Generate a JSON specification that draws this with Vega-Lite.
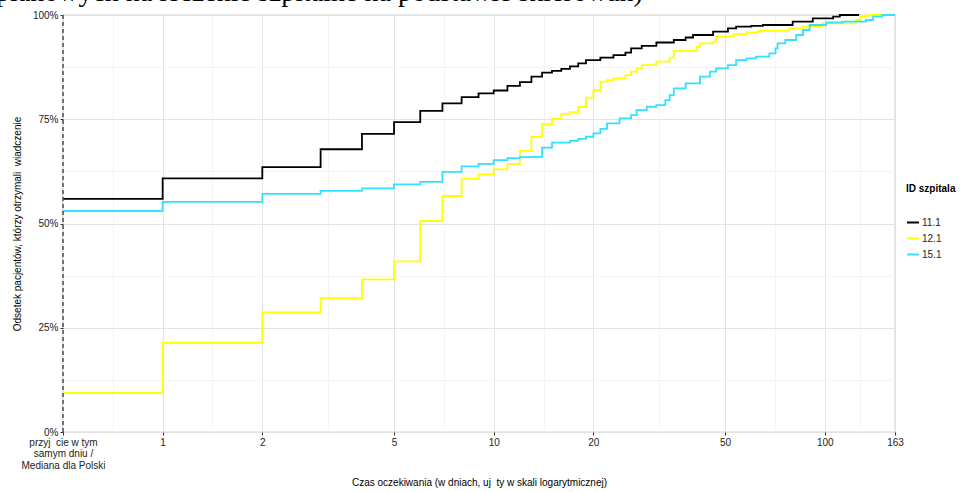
{
  "$schema": "https://vega.github.io/schema/vega-lite/v6.json",
  "width": 832,
  "height": 417,
  "autosize": "none",
  "padding": {"left": 63, "top": 15, "right": 65, "bottom": 60},
  "background": "white",
  "title": {
    "text": "planowych na leczenie szpitalne na podstawie skierowań)",
    "anchor": "start",
    "frame": "group",
    "orient": "top",
    "offset": 0,
    "baseline": "alphabetic",
    "dx": -67,
    "dy": 19,
    "font": "Liberation Serif",
    "fontSize": 28,
    "fontWeight": "normal",
    "color": "#000000"
  },
  "config": {
    "view": {"stroke": "#a8a8a8", "strokeWidth": 1.2},
    "axis": {
      "labelFont": "Liberation Sans",
      "labelFontSize": 10,
      "labelColor": "#222222",
      "titleFont": "Liberation Sans",
      "titleFontSize": 10,
      "titleFontWeight": "normal",
      "titleColor": "#000000",
      "domain": false,
      "tickColor": "#333333",
      "tickSize": 3,
      "labelPadding": 2
    }
  },
  "datasets": {
    "steps": [
      {"id": "11.1", "d": 0.5, "p": 0.559},
      {"id": "11.1", "d": 1, "p": 0.608},
      {"id": "11.1", "d": 2, "p": 0.635},
      {"id": "11.1", "d": 3, "p": 0.678},
      {"id": "11.1", "d": 4, "p": 0.715},
      {"id": "11.1", "d": 5, "p": 0.743},
      {"id": "11.1", "d": 6, "p": 0.770},
      {"id": "11.1", "d": 7, "p": 0.788},
      {"id": "11.1", "d": 8, "p": 0.803},
      {"id": "11.1", "d": 9, "p": 0.812},
      {"id": "11.1", "d": 10, "p": 0.819},
      {"id": "11.1", "d": 11, "p": 0.830},
      {"id": "11.1", "d": 12, "p": 0.839},
      {"id": "11.1", "d": 13, "p": 0.852},
      {"id": "11.1", "d": 14, "p": 0.862},
      {"id": "11.1", "d": 15, "p": 0.866},
      {"id": "11.1", "d": 16, "p": 0.871},
      {"id": "11.1", "d": 17, "p": 0.877},
      {"id": "11.1", "d": 18, "p": 0.884},
      {"id": "11.1", "d": 19, "p": 0.892},
      {"id": "11.1", "d": 21, "p": 0.898},
      {"id": "11.1", "d": 23, "p": 0.904},
      {"id": "11.1", "d": 25, "p": 0.910},
      {"id": "11.1", "d": 26, "p": 0.920},
      {"id": "11.1", "d": 28, "p": 0.926},
      {"id": "11.1", "d": 31, "p": 0.934},
      {"id": "11.1", "d": 35, "p": 0.940},
      {"id": "11.1", "d": 38, "p": 0.946},
      {"id": "11.1", "d": 40, "p": 0.952},
      {"id": "11.1", "d": 46, "p": 0.960},
      {"id": "11.1", "d": 51, "p": 0.968},
      {"id": "11.1", "d": 54, "p": 0.972},
      {"id": "11.1", "d": 60, "p": 0.974},
      {"id": "11.1", "d": 65, "p": 0.976},
      {"id": "11.1", "d": 80, "p": 0.984},
      {"id": "11.1", "d": 92, "p": 0.992},
      {"id": "11.1", "d": 106, "p": 0.996},
      {"id": "11.1", "d": 111, "p": 1.0},
      {"id": "11.1", "d": 127, "p": 1.0},
      {"id": "12.1", "d": 0.5, "p": 0.094},
      {"id": "12.1", "d": 1, "p": 0.214},
      {"id": "12.1", "d": 2, "p": 0.287},
      {"id": "12.1", "d": 3, "p": 0.321},
      {"id": "12.1", "d": 4, "p": 0.366},
      {"id": "12.1", "d": 5, "p": 0.409},
      {"id": "12.1", "d": 6, "p": 0.506},
      {"id": "12.1", "d": 7, "p": 0.566},
      {"id": "12.1", "d": 8, "p": 0.607},
      {"id": "12.1", "d": 9, "p": 0.618},
      {"id": "12.1", "d": 10, "p": 0.630},
      {"id": "12.1", "d": 11, "p": 0.643},
      {"id": "12.1", "d": 12, "p": 0.674},
      {"id": "12.1", "d": 13, "p": 0.708},
      {"id": "12.1", "d": 14, "p": 0.738},
      {"id": "12.1", "d": 15, "p": 0.751},
      {"id": "12.1", "d": 16, "p": 0.763},
      {"id": "12.1", "d": 17, "p": 0.767},
      {"id": "12.1", "d": 18, "p": 0.780},
      {"id": "12.1", "d": 19, "p": 0.802},
      {"id": "12.1", "d": 20, "p": 0.820},
      {"id": "12.1", "d": 21, "p": 0.840},
      {"id": "12.1", "d": 22, "p": 0.844},
      {"id": "12.1", "d": 23, "p": 0.848},
      {"id": "12.1", "d": 25, "p": 0.856},
      {"id": "12.1", "d": 26, "p": 0.864},
      {"id": "12.1", "d": 27, "p": 0.872},
      {"id": "12.1", "d": 28, "p": 0.880},
      {"id": "12.1", "d": 31, "p": 0.888},
      {"id": "12.1", "d": 34, "p": 0.898},
      {"id": "12.1", "d": 35, "p": 0.914},
      {"id": "12.1", "d": 41, "p": 0.924},
      {"id": "12.1", "d": 42, "p": 0.932},
      {"id": "12.1", "d": 46, "p": 0.936},
      {"id": "12.1", "d": 47, "p": 0.948},
      {"id": "12.1", "d": 53, "p": 0.954},
      {"id": "12.1", "d": 58, "p": 0.958},
      {"id": "12.1", "d": 63, "p": 0.962},
      {"id": "12.1", "d": 78, "p": 0.968},
      {"id": "12.1", "d": 86, "p": 0.972},
      {"id": "12.1", "d": 98, "p": 0.980},
      {"id": "12.1", "d": 124, "p": 0.988},
      {"id": "12.1", "d": 128, "p": 0.996},
      {"id": "12.1", "d": 135, "p": 1.0},
      {"id": "12.1", "d": 163, "p": 1.0},
      {"id": "15.1", "d": 0.5, "p": 0.530},
      {"id": "15.1", "d": 1, "p": 0.552},
      {"id": "15.1", "d": 2, "p": 0.571},
      {"id": "15.1", "d": 3, "p": 0.578},
      {"id": "15.1", "d": 4, "p": 0.584},
      {"id": "15.1", "d": 5, "p": 0.594},
      {"id": "15.1", "d": 6, "p": 0.600},
      {"id": "15.1", "d": 7, "p": 0.624},
      {"id": "15.1", "d": 8, "p": 0.637},
      {"id": "15.1", "d": 9, "p": 0.643},
      {"id": "15.1", "d": 10, "p": 0.652},
      {"id": "15.1", "d": 11, "p": 0.657},
      {"id": "15.1", "d": 12, "p": 0.659},
      {"id": "15.1", "d": 13, "p": 0.660},
      {"id": "15.1", "d": 14, "p": 0.682},
      {"id": "15.1", "d": 15, "p": 0.694},
      {"id": "15.1", "d": 17, "p": 0.698},
      {"id": "15.1", "d": 18, "p": 0.703},
      {"id": "15.1", "d": 19, "p": 0.708},
      {"id": "15.1", "d": 20, "p": 0.716},
      {"id": "15.1", "d": 21, "p": 0.727},
      {"id": "15.1", "d": 22, "p": 0.740},
      {"id": "15.1", "d": 24, "p": 0.752},
      {"id": "15.1", "d": 26, "p": 0.760},
      {"id": "15.1", "d": 27, "p": 0.772},
      {"id": "15.1", "d": 29, "p": 0.780},
      {"id": "15.1", "d": 31, "p": 0.784},
      {"id": "15.1", "d": 33, "p": 0.796},
      {"id": "15.1", "d": 34, "p": 0.808},
      {"id": "15.1", "d": 35, "p": 0.824},
      {"id": "15.1", "d": 38, "p": 0.836},
      {"id": "15.1", "d": 42, "p": 0.852},
      {"id": "15.1", "d": 45, "p": 0.864},
      {"id": "15.1", "d": 47, "p": 0.872},
      {"id": "15.1", "d": 51, "p": 0.880},
      {"id": "15.1", "d": 54, "p": 0.892},
      {"id": "15.1", "d": 58, "p": 0.896},
      {"id": "15.1", "d": 62, "p": 0.900},
      {"id": "15.1", "d": 68, "p": 0.908},
      {"id": "15.1", "d": 71, "p": 0.920},
      {"id": "15.1", "d": 72, "p": 0.932},
      {"id": "15.1", "d": 76, "p": 0.940},
      {"id": "15.1", "d": 82, "p": 0.952},
      {"id": "15.1", "d": 86, "p": 0.964},
      {"id": "15.1", "d": 90, "p": 0.976},
      {"id": "15.1", "d": 101, "p": 0.982},
      {"id": "15.1", "d": 113, "p": 0.984},
      {"id": "15.1", "d": 133, "p": 0.988},
      {"id": "15.1", "d": 140, "p": 0.996},
      {"id": "15.1", "d": 149, "p": 1.0},
      {"id": "15.1", "d": 163, "p": 1.0}
    ],
    "median": [{"d": 0.5}]
  },
  "layer": [
    {
      "data": {"name": "steps"},
      "mark": {"type": "line", "interpolate": "step-after", "strokeWidth": 1.8},
      "encoding": {
        "x": {
          "field": "d",
          "type": "quantitative",
          "scale": {"type": "log", "domain": [0.5, 163], "nice": false},
          "title": "Czas oczekiwania (w dniach, uj\u00a0\u00a0ty w skali logarytmicznej)",
          "axis": {
            "values": [0.5, 0.7071, 1, 1.4142, 2, 3.1623, 5, 7.0711, 10, 14.142, 20, 31.623, 50, 70.711, 100, 127.67, 163],
            "labelExpr": "datum.value == 0.5 ? ['przyj\u00a0\u00a0cie w tym', 'samym dniu /', 'Mediana dla Polski'] : (indexof([1, 2, 5, 10, 20, 50, 100, 163], datum.value) >= 0 ? '' + datum.value : '')",
            "labelLineHeight": 11.7,
            "labelFlush": false,
            "labelOverlap": false,
            "gridColor": {"condition": {"test": "indexof([0.5, 1, 2, 5, 10, 20, 50, 100, 163], datum.value) < 0", "value": "#f4f4f4"}, "value": "#e3e3e3"},
            "tickOpacity": {"condition": {"test": "indexof([0.5, 1, 2, 5, 10, 20, 50, 100, 163], datum.value) < 0", "value": 0}, "value": 1},
            "titlePadding": 7
          }
        },
        "y": {
          "field": "p",
          "type": "quantitative",
          "scale": {"domain": [0, 1], "nice": false},
          "title": "Odsetek pacjentów, którzy otrzymali\u00a0\u00a0wiadczenie",
          "axis": {
            "values": [0, 0.125, 0.25, 0.375, 0.5, 0.625, 0.75, 0.875, 1],
            "labelExpr": "indexof([0, 0.25, 0.5, 0.75, 1], datum.value) >= 0 ? format(datum.value, '.0%') : ''",
            "gridColor": {"condition": {"test": "indexof([0, 0.25, 0.5, 0.75, 1], datum.value) < 0", "value": "#f4f4f4"}, "value": "#e3e3e3"},
            "tickOpacity": {"condition": {"test": "indexof([0, 0.25, 0.5, 0.75, 1], datum.value) < 0", "value": 0}, "value": 1},
            "titlePadding": 10
          }
        },
        "color": {
          "field": "id",
          "type": "nominal",
          "scale": {"domain": ["11.1", "12.1", "15.1"], "range": ["#000000", "#FFFF00", "#33E0FF"]},
          "legend": {
            "title": "ID szpitala",
            "orient": "none",
            "legendX": 843,
            "legendY": 168.5,
            "titleFont": "Liberation Sans",
            "titleFontSize": 10,
            "titleFontWeight": "bold",
            "titleColor": "#000000",
            "titlePadding": 22,
            "labelFont": "Liberation Sans",
            "labelFontSize": 10,
            "labelColor": "#222222",
            "labelOffset": 2,
            "symbolType": "stroke",
            "symbolSize": 144,
            "symbolStrokeWidth": 2,
            "rowPadding": 4
          }
        }
      }
    },
    {
      "data": {"name": "median"},
      "mark": {"type": "rule", "color": "#555555", "strokeWidth": 1.6, "strokeDash": [4, 3]},
      "encoding": {
        "x": {"field": "d", "type": "quantitative"}
      }
    }
  ]
}
